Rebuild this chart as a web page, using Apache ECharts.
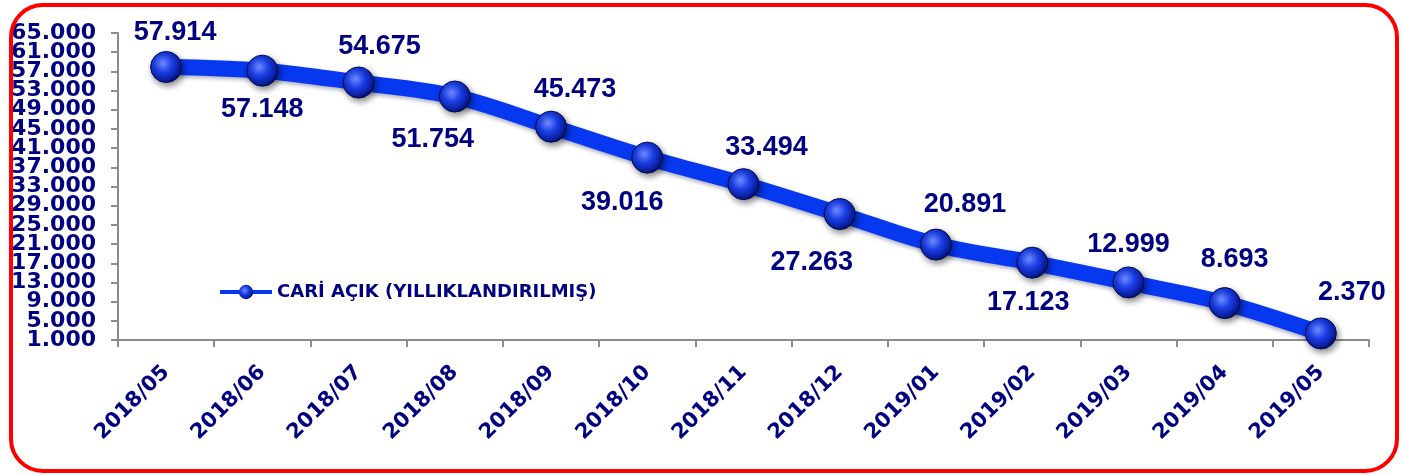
<!DOCTYPE html>
<html>
<head>
<meta charset="utf-8">
<script src="https://cdn.jsdelivr.net/npm/echarts@6/dist/echarts.min.js"></script>
<style>
html,body{margin:0;padding:0;background:#fff;}
#chart{width:1403px;height:475px;}
</style>
</head>
<body>
<div id="chart"></div>
<script>
const categories = ['2018/05','2018/06','2018/07','2018/08','2018/09','2018/10','2018/11','2018/12','2019/01','2019/02','2019/03','2019/04','2019/05'];
const seriesName = 'CARİ AÇIK (YILLIKLANDIRILMIŞ)';
const values = [57914, 57148, 54675, 51754, 45473, 39016, 33494, 27263, 20891, 17123, 12999, 8693, 2370];
const yTicks = [1000, 5000, 9000, 13000, 17000, 21000, 25000, 29000, 33000, 37000, 41000, 45000, 49000, 53000, 57000, 61000, 65000];

// label placement (style): offsets from point centre
const labelOffsets = [[9,-34],[0,39],[21,-36],[-22,43],[24,-37],[-25,45],[23,-37],[-28,49],[29,-40],[-4,40],[0,-38],[10,-44],[31,-41]];

function fmt(v){
  return String(v).replace(/\B(?=(\d{3})+(?!\d))/g, '.');
}

const navy = '#000080';
const sphere = {
  type: 'radial', x: 0.4, y: 0.38, r: 0.65,
  colorStops: [
    {offset: 0, color: '#6f8cff'},
    {offset: 0.45, color: '#1a3ee6'},
    {offset: 0.85, color: '#0a1c9a'},
    {offset: 1, color: '#020a50'}
  ]
};

// labels are split over two overlaid axes so the tightly packed labels are not auto-hidden
const yTicksEven = yTicks.filter((v, i) => i % 2 === 0);
const yTicksOdd = yTicks.filter((v, i) => i % 2 === 1);
const yLabelStyle = {
  margin: 22,
  showMinLabel: true, showMaxLabel: true,
  formatter: v => fmt(v),
  color: navy, fontFamily: 'DejaVu Sans', fontWeight: 'bold', fontSize: 22
};

const chart = echarts.init(document.getElementById('chart'));
chart.setOption({
  backgroundColor: '#ffffff',
  animation: false,
  graphic: [{
    type: 'rect',
    shape: {x: 11, y: 5, width: 1386, height: 466, r: 32},
    style: {fill: 'none', stroke: '#ff0000', lineWidth: 4},
    z: 100
  }],
  legend: {
    left: 213, top: 278,
    itemWidth: 52, itemHeight: 18,
    itemGap: 4,
    data: [seriesName],
    textStyle: {color: navy, fontFamily: 'DejaVu Sans', fontWeight: 'bold', fontSize: 18},
    lineStyle: {width: 4},
    itemStyle: {borderWidth: 0}
  },
  grid: {left: 118, right: 34, top: 33, bottom: 135, containLabel: false},
  xAxis: {
    type: 'category',
    data: categories,
    boundaryGap: true,
    axisLine: {lineStyle: {color: '#8c8c8c', width: 2}},
    axisTick: {show: true, length: 7, alignWithLabel: false, lineStyle: {color: '#8c8c8c', width: 2}},
    axisLabel: {
      rotate: 45, margin: 29, interval: 0,
      color: navy, fontFamily: 'DejaVu Sans', fontWeight: 'bold', fontSize: 21
    },
    splitLine: {show: false}
  },
  yAxis: [{
    type: 'value',
    position: 'left',
    min: 1000, max: 65000,
    axisLine: {show: true, lineStyle: {color: '#8c8c8c', width: 2}},
    axisTick: {show: true, length: 7, customValues: yTicks, lineStyle: {color: '#8c8c8c', width: 2}},
    axisLabel: Object.assign({customValues: yTicksEven}, yLabelStyle),
    splitLine: {show: false}
  }, {
    type: 'value',
    position: 'left',
    offset: 0,
    min: 1000, max: 65000,
    axisLine: {show: false},
    axisTick: {show: false},
    axisLabel: Object.assign({customValues: yTicksOdd}, yLabelStyle),
    splitLine: {show: false}
  }],
  series: [{
    name: seriesName,
    type: 'line',
    yAxisIndex: 0,
    smooth: 0.35,
    data: values.map((v, i) => ({
      value: v,
      label: {offset: labelOffsets[i]}
    })),
    symbol: 'circle',
    symbolSize: 31,
    lineStyle: {
      width: 16, color: '#0638f0',
      shadowColor: 'rgba(0,0,60,0.35)', shadowBlur: 4, shadowOffsetY: 2
    },
    itemStyle: {
      color: sphere,
      borderColor: '#020a50', borderWidth: 1,
      shadowColor: 'rgba(0,0,0,0.45)', shadowBlur: 6, shadowOffsetX: 2, shadowOffsetY: 3
    },
    label: {
      show: true,
      position: 'inside',
      formatter: p => fmt(p.value),
      color: navy, fontFamily: 'Liberation Sans', fontWeight: 'bold', fontSize: 27
    },
    z: 5
  }]
});
</script>
</body>
</html>
